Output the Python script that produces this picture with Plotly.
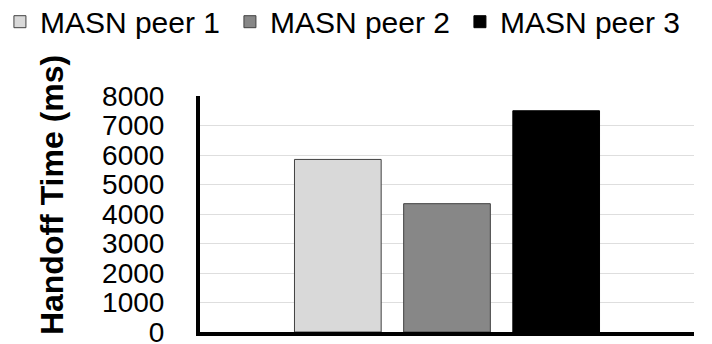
import plotly.graph_objects as go

categories = [""]
series_names = ["MASN peer 1", "MASN peer 2", "MASN peer 3"]
series_values = [[5850], [4350], [7500]]
series_colors = ["#d9d9d9", "#878787", "#000000"]
series_lines = ["#404040", "#404040", "#000000"]
y_ticks = [0, 1000, 2000, 3000, 4000, 5000, 6000, 7000, 8000]

FONT = "Liberation Sans, Arial, sans-serif"

fig = go.Figure()
for name, vals, col, lc in zip(series_names, series_values, series_colors, series_lines):
    fig.add_trace(go.Bar(x=categories, y=vals, name=name,
                         marker=dict(color=col, line=dict(color=lc, width=1))))

fig.update_layout(
    width=712, height=344,
    margin=dict(l=200, r=18, t=96, b=12, autoexpand=False),
    paper_bgcolor="white", plot_bgcolor="white",
    barmode="group", bargap=0.337, bargroupgap=0.206,
    font=dict(family=FONT, color="black"),
    showlegend=True,
    legend=dict(orientation="h", x=-0.405, xanchor="left", y=1.425, yanchor="top",
                yref="paper", xref="paper",
                font=dict(size=30, family=FONT, color="black"),
                entrywidth=185, itemwidth=30, traceorder="normal",
                bgcolor="rgba(0,0,0,0)"),
    xaxis=dict(showticklabels=False, showline=True, linecolor="black", linewidth=4,
               showgrid=False, zeroline=False, ticks=""),
    yaxis=dict(range=[0, 8000], tickvals=y_ticks, ticktext=[str(v) for v in y_ticks],
               showline=True, linecolor="black", linewidth=4,
               showgrid=True, gridcolor="#dedede", gridwidth=1, zeroline=False,
               ticks="", ticklabelstandoff=26, ticklabeloverflow="allow",
               tickfont=dict(size=28, family=FONT, color="black")),
    annotations=[dict(text="<b>Handoff Time (ms)</b>", textangle=-90,
                      xref="paper", yref="paper", x=0, y=0.58,
                      xanchor="center", yanchor="middle", xshift=-148,
                      showarrow=False,
                      font=dict(size=32, family=FONT, color="black"))],
)

fig.write_html("out.html")
